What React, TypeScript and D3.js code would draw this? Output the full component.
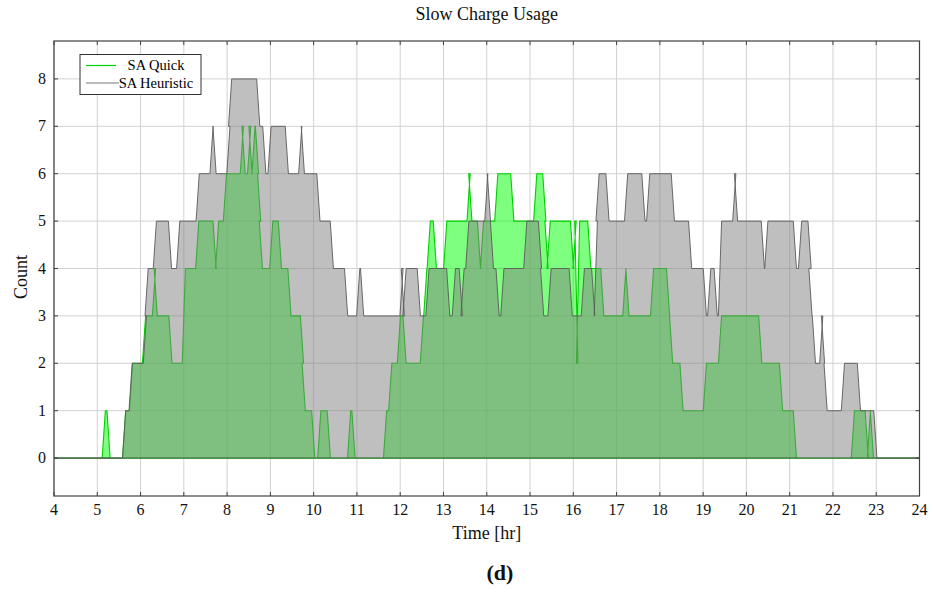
import { useEffect, useRef } from "react";
import * as d3 from "d3";

// step data: value holds from time[i] until time[i+1]
const quickTimes = [
  4.0, 5.15, 5.26, 5.62, 5.78, 6.08, 6.31, 6.35, 6.69, 7.0, 7.31, 7.71, 7.77, 7.95,
  8.34, 8.38, 8.51, 8.54, 8.61, 8.69, 8.74, 8.78, 9.02, 9.22, 9.44, 9.73, 9.77, 9.99,
  10.13, 10.35, 10.82, 10.92, 11.65, 11.77, 11.97, 12.1, 12.5, 12.58, 12.66, 12.8,
  13.04, 13.58, 13.62, 13.82, 13.89, 14.22, 14.59, 15.12, 15.33, 15.38, 15.43, 15.97,
  16.03, 16.07, 16.11, 16.37, 16.67, 17.18, 17.25, 17.82, 18.19, 18.26, 18.5, 19.04,
  19.39, 20.32, 20.8, 21.12, 22.46, 22.78, 22.83, 22.9, 24,
];
const quickValues = [
  0, 1, 0, 1, 2, 3, 4, 3, 2, 4, 5, 4, 5, 6,
  7, 6, 7, 6, 7, 6, 5, 4, 5, 4, 3, 2, 1, 0,
  1, 0, 1, 0, 1, 2, 3, 2, 3, 4, 5, 4,
  5, 6, 5, 4, 5, 6, 5, 6, 5, 4, 5, 4,
  5, 2, 5, 4, 3, 4, 3, 4, 3, 2, 1, 2,
  3, 2, 1, 0, 1, 0, 1, 0, 0,
];

const heurTimes = [
  4.0, 5.62, 5.77, 6.1, 6.14, 6.33, 6.68, 6.87, 7.32, 7.64, 7.71, 8.03, 8.07, 8.72,
  8.86, 8.98, 9.38, 9.69, 9.75, 10.11, 10.42, 10.75, 11.03, 11.12, 12.03, 12.06, 12.1,
  12.43, 12.63, 13.11, 13.24, 13.4, 13.44, 13.55, 13.99, 14.05, 14.12, 14.25, 14.36,
  14.89, 15.23, 15.28, 15.45, 15.94, 16.22, 16.46, 16.52, 16.56, 16.79, 17.22, 17.62,
  17.73, 18.3, 18.7, 19.04, 19.14, 19.29, 19.39, 19.72, 19.76, 20.38, 20.46, 21.12,
  21.24, 21.46, 21.48, 21.56, 21.73, 21.77, 21.83, 22.23, 22.6, 22.98, 24,
];
const heurValues = [
  0, 1, 2, 3, 4, 5, 4, 5, 6, 7, 6, 7, 8, 7,
  6, 7, 6, 7, 6, 5, 4, 3, 4, 3, 4, 3, 4,
  3, 4, 3, 4, 3, 4, 5, 6, 5, 4, 3, 4,
  5, 4, 3, 4, 3, 4, 3, 5, 6, 5, 6, 5,
  6, 5, 4, 3, 4, 3, 5, 6, 5, 4, 5, 4,
  5, 4, 3, 2, 3, 2, 1, 2, 1, 0, 0,
];

const xTicks = d3.range(4, 25, 1);
const yTicks = d3.range(0, 9, 1);

const W = 933;
const H = 592;
const FONT = "'Liberation Serif', 'Times New Roman', serif";

// step-after curve whose risers lean over a few pixels (one sample interval),
// like the sampled series in the original plot
function slopedStep(riser: number) {
  return (context: any) => {
    let line = NaN;
    let pt = 0;
    let py = NaN;
    return {
      areaStart() { line = 0; },
      areaEnd() { line = NaN; },
      lineStart() { pt = 0; py = NaN; },
      lineEnd() {
        if (line || (line !== 0 && pt === 1)) context.closePath();
        line = 1 - line;
      },
      point(x: number, y: number) {
        x = +x; y = +y;
        if (pt === 0) {
          pt = 1;
          if (line) context.lineTo(x, y);
          else context.moveTo(x, y);
        } else if (y !== py) {
          context.lineTo(x - riser / 2, py);
          context.lineTo(x + riser / 2, y);
        } else {
          context.lineTo(x, y);
        }
        py = y;
      },
    };
  };
}

export default function App() {
  const ref = useRef<SVGSVGElement | null>(null);

  useEffect(() => {
    if (!ref.current) return;
    const svg = d3.select(ref.current);
    svg.selectAll("*").remove();

    const left = 54, right = 919.5, top = 41, bottom = 496;
    const x = d3.scaleLinear().domain([4, 24]).range([left, right]);
    const y = d3.scaleLinear().domain([-0.8, 8.8]).range([bottom, top]);

    const quick = quickTimes.map((t, i) => [t, quickValues[i]] as [number, number]);
    const heur = heurTimes.map((t, i) => [t, heurValues[i]] as [number, number]);

    // grid
    const grid = svg.append("g").attr("stroke", "#d2d2d2").attr("stroke-width", 1);
    grid.selectAll("line.v").data(xTicks).join("line")
      .attr("x1", (d) => x(d)).attr("x2", (d) => x(d))
      .attr("y1", top).attr("y2", bottom);
    grid.selectAll("line.h").data(yTicks).join("line")
      .attr("x1", left).attr("x2", right)
      .attr("y1", (d) => y(d)).attr("y2", (d) => y(d));

    const curve = slopedStep(3.2) as any;
    const area = d3.area<[number, number]>()
      .x((d) => x(d[0]))
      .y0(y(0))
      .y1((d) => y(d[1]))
      .curve(curve);
    const line = d3.line<[number, number]>()
      .x((d) => x(d[0]))
      .y((d) => y(d[1]))
      .curve(curve);

    svg.append("path").attr("d", area(quick)!)
      .attr("fill", "#00ff00").attr("fill-opacity", 0.5);
    svg.append("path").attr("d", line(quick)!)
      .attr("fill", "none").attr("stroke", "#00d000").attr("stroke-width", 1.1);
    svg.append("path").attr("d", area(heur)!)
      .attr("fill", "#808080").attr("fill-opacity", 0.5);
    svg.append("path").attr("d", line(heur)!)
      .attr("fill", "none").attr("stroke", "#5a5a5a").attr("stroke-width", 0.9);

    // frame + ticks
    const ax = svg.append("g").attr("stroke", "#404040").attr("stroke-width", 1);
    ax.selectAll("line.xb").data(xTicks).join("line")
      .attr("x1", (d) => x(d)).attr("x2", (d) => x(d))
      .attr("y1", bottom).attr("y2", bottom - 4);
    ax.selectAll("line.xt").data(xTicks).join("line")
      .attr("x1", (d) => x(d)).attr("x2", (d) => x(d))
      .attr("y1", top).attr("y2", top + 4);
    ax.selectAll("line.yl").data(yTicks).join("line")
      .attr("x1", left).attr("x2", left + 4)
      .attr("y1", (d) => y(d)).attr("y2", (d) => y(d));
    ax.selectAll("line.yr").data(yTicks).join("line")
      .attr("x1", right).attr("x2", right - 4)
      .attr("y1", (d) => y(d)).attr("y2", (d) => y(d));
    svg.append("rect")
      .attr("x", left).attr("y", top)
      .attr("width", right - left).attr("height", bottom - top)
      .attr("fill", "none").attr("stroke", "#404040").attr("stroke-width", 1.2);

    const txt = svg.append("g").attr("font-family", FONT).attr("fill", "#111");
    txt.selectAll("text.xt").data(xTicks).join("text")
      .attr("x", (d) => x(d)).attr("y", bottom + 19)
      .attr("text-anchor", "middle").attr("font-size", 16)
      .text((d) => d);
    txt.selectAll("text.yt").data(yTicks).join("text")
      .attr("x", left - 8).attr("y", (d) => y(d) + 5)
      .attr("text-anchor", "end").attr("font-size", 16)
      .text((d) => d);

    txt.append("text").attr("x", (left + right) / 2).attr("y", 20)
      .attr("text-anchor", "middle").attr("font-size", 18).text("Slow Charge Usage");
    txt.append("text").attr("x", (left + right) / 2).attr("y", 539)
      .attr("text-anchor", "middle").attr("font-size", 18).text("Time [hr]");
    txt.append("text").attr("transform", `translate(27,277) rotate(-90)`)
      .attr("text-anchor", "middle").attr("font-size", 18).text("Count");
    txt.append("text").attr("x", 500).attr("y", 580)
      .attr("text-anchor", "middle").attr("font-size", 22).attr("font-weight", "bold")
      .text("(d)");

    // legend
    const lg = svg.append("g");
    lg.append("rect").attr("x", 80).attr("y", 54.5).attr("width", 121).attr("height", 40)
      .attr("fill", "#fff").attr("stroke", "#333").attr("stroke-width", 1);
    lg.append("line").attr("x1", 86).attr("x2", 116).attr("y1", 65.5).attr("y2", 65.5)
      .attr("stroke", "#00d400").attr("stroke-width", 1.2);
    lg.append("line").attr("x1", 86).attr("x2", 119).attr("y1", 83).attr("y2", 83)
      .attr("stroke", "#777").attr("stroke-width", 1.2);
    lg.append("text").attr("x", 156).attr("y", 70).attr("text-anchor", "middle")
      .attr("font-family", FONT).attr("font-size", 14.5).text("SA Quick");
    lg.append("text").attr("x", 156).attr("y", 87.5).attr("text-anchor", "middle")
      .attr("font-family", FONT).attr("font-size", 14.5).text("SA Heuristic");
  }, []);

  return (
    <svg
      ref={ref}
      width={W}
      height={H}
      style={{ position: "absolute", left: 0, top: 0, background: "#fff" }}
    />
  );
}
